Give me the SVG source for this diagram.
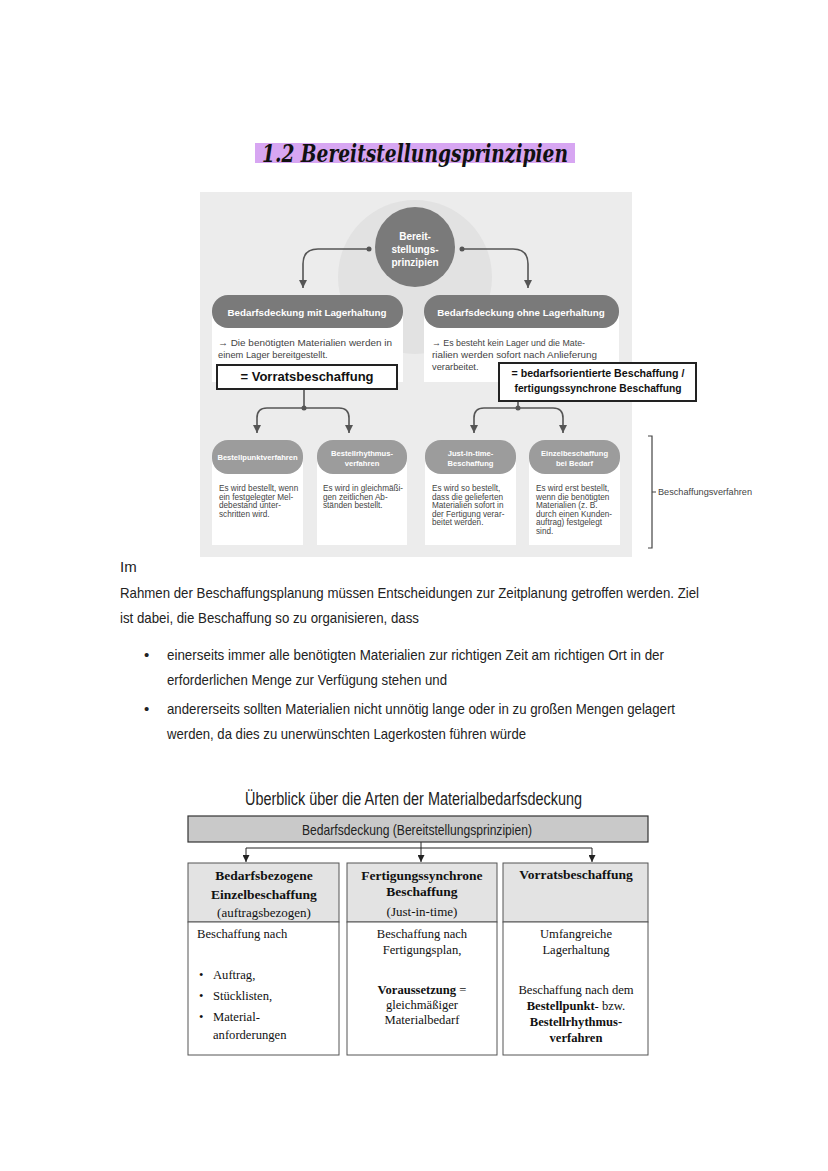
<svg xmlns="http://www.w3.org/2000/svg" width="828" height="1171" viewBox="0 0 828 1171">
<style>
.sans{font-family:"Liberation Sans","Noto Sans",Arial,sans-serif}
.hand{font-family:"Liberation Sans","DejaVu Sans",sans-serif;fill:#222}
.serif{font-family:"Liberation Serif","Times New Roman",serif;fill:#111}
.pill{fill:#7a7a7a}
.pill3{fill:#9c9c9c}
.pt{font-family:"Liberation Sans",Arial,sans-serif;font-weight:bold;fill:#fff;text-anchor:middle}
.bt{font-family:"Liberation Sans",Arial,sans-serif;fill:#444}
.wb{fill:#fff}
.con{fill:none;stroke:#555;stroke-width:1.6}
.conb{fill:none;stroke:#222;stroke-width:1}
.cell{fill:#fff;stroke:#555;stroke-width:1}
.head{fill:#e3e3e3;stroke:#555;stroke-width:1}
</style>
<defs>
<marker id="ah" viewBox="0 0 10 10" refX="10" refY="5" markerWidth="8" markerHeight="8" markerUnits="userSpaceOnUse" orient="auto"><path d="M0,0 L10,5 L0,10 z" fill="#555"/></marker>
<marker id="ahb" viewBox="0 0 10 10" refX="10" refY="5" markerWidth="7" markerHeight="7" markerUnits="userSpaceOnUse" orient="auto"><path d="M0,0 L10,5 L0,10 z" fill="#222"/></marker>
</defs>
<rect x="0" y="0" width="828" height="1171" fill="#fff"/>

<!-- Title -->
<g id="title">
<rect x="255" y="143" width="320" height="20" fill="#d7a6f2"/>
<text x="262" y="162" font-family="DejaVu Serif,serif" font-style="italic" font-weight="bold" font-size="24" textLength="306" lengthAdjust="spacingAndGlyphs" fill="#111">1.2 Bereitstellungsprinzipien</text>
</g>

<!-- Top diagram panel -->
<g id="panel">
<rect x="200" y="192" width="432" height="365" fill="#ececec"/>
<circle cx="415" cy="277" r="77" fill="#e2e2e2"/>
</g>

<g id="connectors">
<path class="con" d="M369,249 H318 Q303,249 303,264 V288" marker-end="url(#ah)"/>
<path class="con" d="M462,249 H513 Q528,249 528,264 V288" marker-end="url(#ah)"/>
<circle cx="369" cy="249" r="2.5" fill="#555"/>
<circle cx="462" cy="249" r="2.5" fill="#555"/>
<path class="con" d="M304,389 V408"/>
<path class="con" d="M304,408 H267 Q257,408 257,418 V433" marker-end="url(#ah)"/>
<path class="con" d="M304,408 H339 Q349,408 349,418 V433" marker-end="url(#ah)"/>
<circle cx="304" cy="408" r="2.5" fill="#555"/>
<path class="con" d="M518,401 V408"/>
<path class="con" d="M518,408 H484 Q474,408 474,418 V433" marker-end="url(#ah)"/>
<path class="con" d="M518,408 H553 Q563,408 563,418 V433" marker-end="url(#ah)"/>
<circle cx="518" cy="408" r="2.5" fill="#555"/>
<path class="conb" d="M421,842 V862" marker-end="url(#ahb)"/>
<path class="conb" d="M421,848 H246 V862" marker-end="url(#ahb)"/>
<path class="conb" d="M421,848 H592 V862" marker-end="url(#ahb)"/>
</g>

<g id="root">
<circle cx="415" cy="247" r="40" fill="#7a7a7a"/>
<text class="pt" font-size="10" x="415" y="240">Bereit-</text>
<text class="pt" font-size="10" x="415" y="253">stellungs-</text>
<text class="pt" font-size="10" x="415" y="266">prinzipien</text>
</g>

<g id="mitLager">
<rect class="wb" x="212" y="312" width="191" height="70"/>
<rect class="pill" x="212" y="295" width="191" height="33" rx="16"/>
<text class="pt" font-size="9.8" x="307" y="316">Bedarfsdeckung mit Lagerhaltung</text>
<text class="bt" font-size="9.3" x="218" y="346" textLength="174" lengthAdjust="spacingAndGlyphs">→ Die benötigten Materialien werden in</text>
<text class="bt" font-size="9.3" x="218" y="358">einem Lager bereitgestellt.</text>
</g>

<g id="ohneLager">
<rect class="wb" x="424" y="312" width="195" height="70"/>
<rect class="pill" x="424" y="295" width="195" height="33" rx="16"/>
<text class="pt" font-size="9.8" x="521" y="316">Bedarfsdeckung ohne Lagerhaltung</text>
<text class="bt" font-size="9.3" x="432" y="346" textLength="153" lengthAdjust="spacingAndGlyphs">→ Es besteht kein Lager und die Mate-</text>
<text class="bt" font-size="9.3" x="432" y="358" textLength="165" lengthAdjust="spacingAndGlyphs">rialien werden sofort nach Anlieferung</text>
<text class="bt" font-size="9.3" x="432" y="370">verarbeitet.</text>
</g>

<g id="vorrat">
<rect x="217" y="365" width="180" height="24" fill="#fff" stroke="#222" stroke-width="2"/>
<text class="sans" x="307" y="381" font-size="13" font-weight="bold" text-anchor="middle" fill="#111">= Vorratsbeschaffung</text>
</g>

<g id="bedarfsorientiert">
<rect x="499" y="363" width="197" height="38" fill="#fff" stroke="#222" stroke-width="2"/>
<text class="sans" x="598" y="377" font-size="11" font-weight="bold" text-anchor="middle" fill="#111" textLength="173" lengthAdjust="spacingAndGlyphs">= bedarfsorientierte Beschaffung /</text>
<text class="sans" x="598" y="392" font-size="11" font-weight="bold" text-anchor="middle" fill="#111" textLength="167" lengthAdjust="spacingAndGlyphs">fertigungssynchrone Beschaffung</text>
</g>

<g id="bestellpunkt">
<rect class="wb" x="212" y="456" width="91" height="89"/>
<rect class="pill3" x="212" y="440" width="91" height="34" rx="16"/>
<text class="pt" font-size="7.6" x="257.5" y="460">Bestellpunktverfahren</text>
<text class="bt" font-size="8.2" x="219" y="491">Es wird bestellt, wenn</text>
<text class="bt" font-size="8.2" x="219" y="500">ein festgelegter Mel-</text>
<text class="bt" font-size="8.2" x="219" y="508">debestand unter-</text>
<text class="bt" font-size="8.2" x="219" y="517">schritten wird.</text>
</g>

<g id="bestellrhythmus">
<rect class="wb" x="317" y="456" width="90" height="89"/>
<rect class="pill3" x="317" y="440" width="90" height="34" rx="16"/>
<text class="pt" font-size="7.6" x="362" y="456">Bestellrhythmus-</text>
<text class="pt" font-size="7.6" x="362" y="466">verfahren</text>
<text class="bt" font-size="8.2" x="323" y="491">Es wird in gleichmäßi-</text>
<text class="bt" font-size="8.2" x="323" y="500">gen zeitlichen Ab-</text>
<text class="bt" font-size="8.2" x="323" y="508">ständen bestellt.</text>
</g>

<g id="jit">
<rect class="wb" x="425" y="456" width="91" height="89"/>
<rect class="pill3" x="425" y="440" width="91" height="34" rx="16"/>
<text class="pt" font-size="7.6" x="470.5" y="456">Just-in-time-</text>
<text class="pt" font-size="7.6" x="470.5" y="466">Beschaffung</text>
<text class="bt" font-size="8.2" x="432" y="491">Es wird so bestellt,</text>
<text class="bt" font-size="8.2" x="432" y="500">dass die gelieferten</text>
<text class="bt" font-size="8.2" x="432" y="508">Materialien sofort in</text>
<text class="bt" font-size="8.2" x="432" y="517">der Fertigung verar-</text>
<text class="bt" font-size="8.2" x="432" y="525">beitet werden.</text>
</g>

<g id="einzel">
<rect class="wb" x="529" y="456" width="91" height="89"/>
<rect class="pill3" x="529" y="440" width="91" height="34" rx="16"/>
<text class="pt" font-size="7.6" x="574.5" y="456">Einzelbeschaffung</text>
<text class="pt" font-size="7.6" x="574.5" y="466">bei Bedarf</text>
<text class="bt" font-size="8.2" x="536" y="491">Es wird erst bestellt,</text>
<text class="bt" font-size="8.2" x="536" y="500">wenn die benötigten</text>
<text class="bt" font-size="8.2" x="536" y="508">Materialien (z. B.</text>
<text class="bt" font-size="8.2" x="536" y="517">durch einen Kunden-</text>
<text class="bt" font-size="8.2" x="536" y="525">auftrag) festgelegt</text>
<text class="bt" font-size="8.2" x="536" y="534">sind.</text>
</g>

<g id="bracket">
<path d="M648,436 H652 V548 H648 M652,492 H656" fill="none" stroke="#444" stroke-width="1.2"/>
<text class="bt" font-size="8.6" x="658" y="495" fill="#333" textLength="94" lengthAdjust="spacingAndGlyphs">Beschaffungsverfahren</text>
</g>

<!-- Paragraph -->
<g id="paragraph">
<text class="hand" font-size="15" x="120" y="572">Im</text>
<text class="hand" font-size="15" x="120" y="598" textLength="579" lengthAdjust="spacingAndGlyphs">Rahmen der Beschaffungsplanung müssen Entscheidungen zur Zeitplanung getroffen werden. Ziel</text>
<text class="hand" font-size="15" x="120" y="623" textLength="299" lengthAdjust="spacingAndGlyphs">ist dabei, die Beschaffung so zu organisieren, dass</text>
<text class="hand" font-size="15" x="144" y="660">•</text>
<text class="hand" font-size="15" x="167" y="660" textLength="497" lengthAdjust="spacingAndGlyphs">einerseits immer alle benötigten Materialien zur richtigen Zeit am richtigen Ort in der</text>
<text class="hand" font-size="15" x="167" y="685" textLength="280" lengthAdjust="spacingAndGlyphs">erforderlichen Menge zur Verfügung stehen und</text>
<text class="hand" font-size="15" x="144" y="714">•</text>
<text class="hand" font-size="15" x="167" y="714" textLength="508" lengthAdjust="spacingAndGlyphs">andererseits sollten Materialien nicht unnötig lange oder in zu großen Mengen gelagert</text>
<text class="hand" font-size="15" x="167" y="739" textLength="359" lengthAdjust="spacingAndGlyphs">werden, da dies zu unerwünschten Lagerkosten führen würde</text>
</g>

<!-- Bottom overview -->
<g id="overviewTitle">
<text class="hand" font-size="17.5" x="245" y="805" textLength="337" lengthAdjust="spacingAndGlyphs">Überblick über die Arten der Materialbedarfsdeckung</text>
</g>

<g id="header">
<rect x="188" y="816" width="460" height="26" fill="#c9c9c9" stroke="#333" stroke-width="1.2"/>
<text class="hand" font-size="14.5" x="302" y="835" textLength="230" lengthAdjust="spacingAndGlyphs">Bedarfsdeckung (Bereitstellungsprinzipien)</text>
</g>

<g id="col1">
<rect class="head" x="188" y="863" width="151" height="59"/>
<rect class="cell" x="188" y="922" width="151" height="133"/>
<text class="serif" font-size="13.5" font-weight="bold" text-anchor="middle" x="264" y="880">Bedarfsbezogene</text>
<text class="serif" font-size="13.5" font-weight="bold" text-anchor="middle" x="264" y="899">Einzelbeschaffung</text>
<text class="serif" font-size="13" text-anchor="middle" x="264" y="917">(auftragsbezogen)</text>
<text class="serif" font-size="12.6" x="197" y="938">Beschaffung nach</text>
<text class="serif" font-size="12.6" x="199" y="979">•</text>
<text class="serif" font-size="12.6" x="213" y="979">Auftrag,</text>
<text class="serif" font-size="12.6" x="199" y="1000">•</text>
<text class="serif" font-size="12.6" x="213" y="1000">Stücklisten,</text>
<text class="serif" font-size="12.6" x="199" y="1021">•</text>
<text class="serif" font-size="12.6" x="213" y="1021">Material-</text>
<text class="serif" font-size="12.6" x="213" y="1039">anforderungen</text>
</g>

<g id="col2">
<rect class="head" x="347" y="863" width="150" height="59"/>
<rect class="cell" x="347" y="922" width="150" height="133"/>
<text class="serif" font-size="13.5" font-weight="bold" text-anchor="middle" x="422" y="880">Fertigungssynchrone</text>
<text class="serif" font-size="13.5" font-weight="bold" text-anchor="middle" x="422" y="896">Beschaffung</text>
<text class="serif" font-size="13" text-anchor="middle" x="422" y="916">(Just-in-time)</text>
<text class="serif" font-size="12.6" text-anchor="middle" x="422" y="938">Beschaffung nach</text>
<text class="serif" font-size="12.6" text-anchor="middle" x="422" y="954">Fertigungsplan,</text>
<text class="serif" font-size="12.6" text-anchor="middle" x="422" y="994"><tspan font-weight="bold">Voraussetzung</tspan> =</text>
<text class="serif" font-size="12.6" text-anchor="middle" x="422" y="1009">gleichmäßiger</text>
<text class="serif" font-size="12.6" text-anchor="middle" x="422" y="1024">Materialbedarf</text>
</g>

<g id="col3">
<rect class="head" x="503" y="863" width="145" height="59"/>
<rect class="cell" x="503" y="922" width="145" height="133"/>
<text class="serif" font-size="13.5" font-weight="bold" text-anchor="middle" x="576" y="879">Vorratsbeschaffung</text>
<text class="serif" font-size="12.6" text-anchor="middle" x="576" y="938">Umfangreiche</text>
<text class="serif" font-size="12.6" text-anchor="middle" x="576" y="954">Lagerhaltung</text>
<text class="serif" font-size="12.6" text-anchor="middle" x="576" y="994">Beschaffung nach dem</text>
<text class="serif" font-size="12.6" text-anchor="middle" x="576" y="1010"><tspan font-weight="bold">Bestellpunkt</tspan>- bzw.</text>
<text class="serif" font-size="12.6" font-weight="bold" text-anchor="middle" x="576" y="1026">Bestellrhythmus-</text>
<text class="serif" font-size="12.6" font-weight="bold" text-anchor="middle" x="576" y="1042">verfahren</text>
</g>
</svg>
